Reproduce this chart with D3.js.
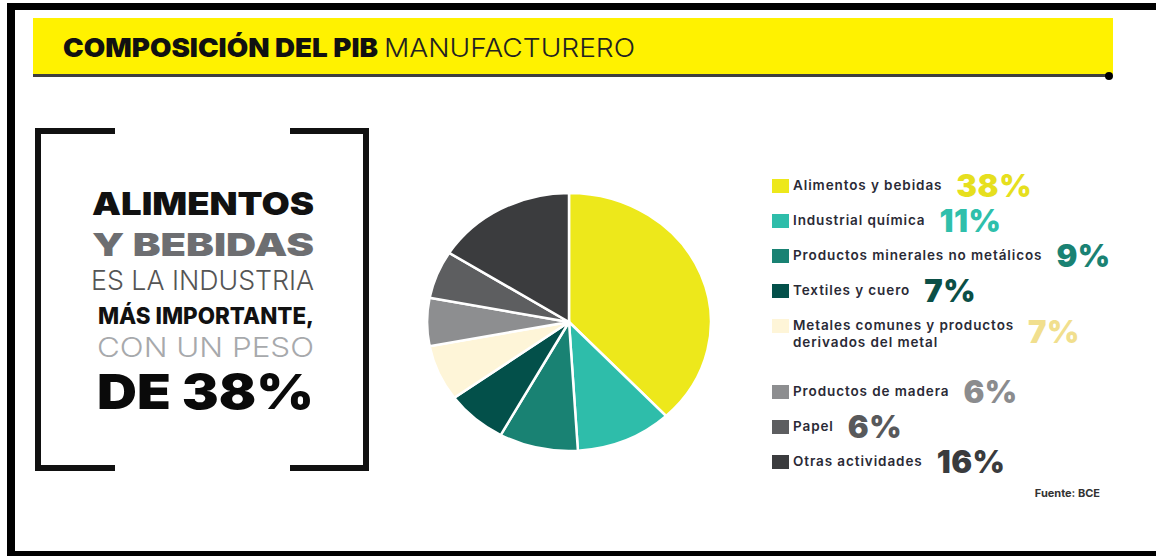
<!DOCTYPE html>
<html>
<head>
<meta charset="utf-8">
<script src="https://cdn.jsdelivr.net/npm/d3@7"></script>
<style>
  body { margin: 0; background: #fff; }
  svg { display: block; font-family: Inter, "Open Sans", sans-serif; }
</style>
</head>
<body>
<div id="chart"></div>
<script>
// data
var categories = [
  'Alimentos y bebidas',
  'Industrial química',
  'Productos minerales no metálicos',
  'Textiles y cuero',
  'Metales comunes y productos|derivados del metal',
  'Productos de madera',
  'Papel',
  'Otras actividades'
];
var values = [38, 11, 9, 7, 7, 6, 6, 16];
var sliceColors = ['#ede81b', '#2ebdaa', '#198273', '#03504a', '#fef5d8', '#8d8e90', '#5d5e60', '#3b3c3e'];
var pctColors = ['#e6df1e', '#2fbfab', '#1a8273', '#0b4f46', '#f1df8e', '#8b8c8e', '#58595b', '#3a3b3d'];
var headline = ['ALIMENTOS', 'Y BEBIDAS', 'ES LA INDUSTRIA', 'MÁS IMPORTANTE,', 'CON UN PESO', 'DE 38%'];
var titleBold = 'COMPOSICIÓN DEL PIB';
var titleLight = 'MANUFACTURERO';
var source = 'Fuente: BCE';

(function(){
  var width = 1156, height = 556;

  var svg = d3.select('#chart')
    .append('svg')
    .attr('width', width)
    .attr('height', height);

  // frame
  svg.append('rect').attr('x', 7).attr('y', 3).attr('width', width - 7).attr('height', 7).attr('fill', '#000');
  svg.append('rect').attr('x', 7).attr('y', 3).attr('width', 8).attr('height', 553).attr('fill', '#000');
  svg.append('rect').attr('x', 7).attr('y', 551).attr('width', width - 7).attr('height', 5).attr('fill', '#000');

  // title band
  svg.append('rect').attr('x', 33).attr('y', 18).attr('width', 1080).attr('height', 56).attr('fill', '#fff200');
  svg.append('line').attr('x1', 33).attr('x2', 1109).attr('y1', 75.5).attr('y2', 75.5)
    .attr('stroke', '#3f3f3f').attr('stroke-width', 3);
  svg.append('circle').attr('cx', 1109).attr('cy', 76).attr('r', 4).attr('fill', '#000');

  svg.append('text').attr('x', 63).attr('y', 57)
    .attr('font-size', 26).attr('font-weight', 900).attr('fill', '#111')
    .attr('textLength', 315).attr('lengthAdjust', 'spacingAndGlyphs')
    .text(titleBold);
  svg.append('text').attr('x', 384).attr('y', 57)
    .attr('font-size', 26).attr('font-weight', 300).attr('fill', '#222')
    .attr('textLength', 251).attr('lengthAdjust', 'spacingAndGlyphs')
    .text(titleLight);

  // left brackets
  svg.append('path').attr('d', 'M115,131H38V468H115')
    .attr('fill', 'none').attr('stroke', '#111').attr('stroke-width', 6);
  svg.append('path').attr('d', 'M290,131H366V468H290')
    .attr('fill', 'none').attr('stroke', '#111').attr('stroke-width', 6);

  var headStyle = [
    {x: 92, y: 215, size: 32, weight: 900, fill: '#111'},
    {x: 92, y: 256, size: 32, weight: 900, fill: '#6d6e71'},
    {x: 91, y: 290, size: 27, weight: 300, fill: '#555'},
    {x: 98, y: 324, size: 23, weight: 800, fill: '#111'},
    {x: 97, y: 357, size: 27, weight: 300, fill: '#a7a9ac'},
    {x: 97, y: 409, size: 48, weight: 900, fill: '#0a0a0a'}
  ];
  svg.append('g').selectAll('text')
    .data(headline)
    .enter().append('text')
    .attr('x', function(d, i){ return headStyle[i].x })
    .attr('y', function(d, i){ return headStyle[i].y })
    .attr('font-size', function(d, i){ return headStyle[i].size })
    .attr('font-weight', function(d, i){ return headStyle[i].weight })
    .attr('fill', function(d, i){ return headStyle[i].fill })
    .attr('textLength', function(d, i){ return 314 - headStyle[i].x })
    .attr('lengthAdjust', 'spacingAndGlyphs')
    .text(function(d){ return d });

  // pie (slightly wider than tall, like the original)
  var pie = d3.pie().sort(null).value(function(d){ return d });
  var arc = d3.arc().innerRadius(0).outerRadius(129);

  var pg = svg.append('g').attr('transform', 'translate(569,322) scale(1.1,1)');
  pg.selectAll('path')
    .data(pie(values))
    .enter().append('path')
    .attr('d', arc)
    .attr('fill', function(d, i){ return sliceColors[i] })
    .attr('stroke', '#fff')
    .attr('stroke-width', 2.5)
    .attr('vector-effect', 'non-scaling-stroke');

  // legend
  function rowY(i){ return 186 + i * 35 + (i > 4 ? 31 : 0) }

  var rows = svg.append('g').selectAll('g')
    .data(categories)
    .enter().append('g')
    .attr('transform', function(d, i){ return 'translate(0,' + rowY(i) + ')' });

  rows.append('rect')
    .attr('x', 772).attr('y', -7).attr('width', 17).attr('height', 14)
    .attr('fill', function(d, i){ return sliceColors[i] });

  rows.each(function(d, i){
    var row = d3.select(this);
    var lines = d.split('|');
    var maxW = 0;
    lines.forEach(function(line, j){
      var t = row.append('text')
        .attr('x', 793).attr('y', 4 + j * 17)
        .attr('font-size', 13.5).attr('font-weight', 600)
        .attr('letter-spacing', 0.9)
        .attr('fill', '#2a2a36')
        .text(line);
      maxW = Math.max(maxW, j === 0 ? t.node().getComputedTextLength() : 0);
    });
    row.append('text')
      .attr('x', 793 + maxW + 14)
      .attr('y', 11 + (lines.length - 1) * 6)
      .attr('font-size', 31).attr('font-weight', 900)
      .attr('letter-spacing', 0.5)
      .attr('fill', pctColors[i])
      .text(values[i] + '%');
  });

  svg.append('text').attr('x', 1100).attr('y', 497)
    .attr('text-anchor', 'end')
    .attr('font-size', 11).attr('font-weight', 700).attr('fill', '#333')
    .text(source);
})()
</script>
</body>
</html>
